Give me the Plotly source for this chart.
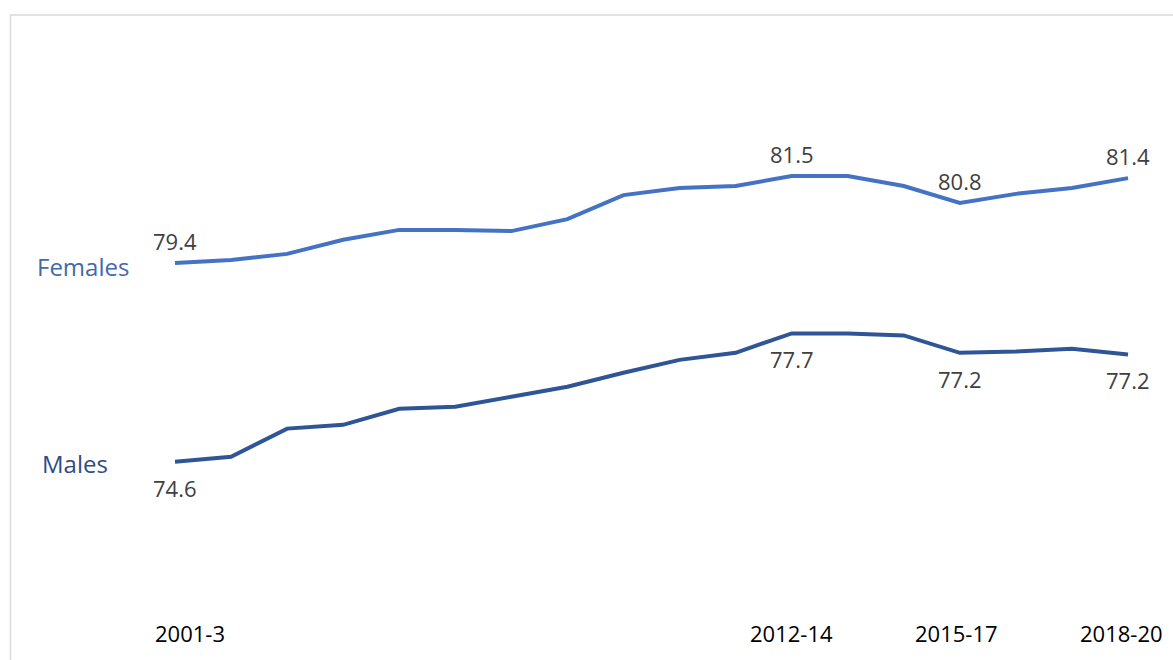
import plotly.graph_objects as go

periods = ["2001-3", "2002-4", "2003-5", "2004-6", "2005-7", "2006-8", "2007-9", "2008-10",
           "2009-11", "2010-12", "2011-13", "2012-14", "2013-15", "2014-16", "2015-17",
           "2016-18", "2017-19", "2018-20"]
females = [79.4, 79.47, 79.62, 79.96, 80.2, 80.2, 80.17, 80.46, 81.04, 81.21, 81.26,
           81.5, 81.5, 81.26, 80.85, 81.07, 81.21, 81.45]
males = [74.6, 74.72, 75.4, 75.49, 75.88, 75.93, 76.17, 76.41, 76.75, 77.06, 77.23,
         77.7, 77.7, 77.65, 77.23, 77.26, 77.33, 77.19]
female_labels = {0: "79.4", 11: "81.5", 14: "80.8", 17: "81.4"}
male_labels = {0: "74.6", 11: "77.7", 14: "77.2", 17: "77.2"}
tick_labels = {0: "2001-3", 11: "2012-14", 14: "2015-17", 17: "2018-20"}

W, H = 1173, 660
FONT = "Open Sans"
F_COL = "#4472C4"
M_COL = "#2F5597"
idx = list(range(len(periods)))

fig = go.Figure()
fig.add_trace(go.Scatter(x=idx, y=females, mode="lines", line=dict(color=F_COL, width=4),
                         name="Females", hoverinfo="skip"))
fig.add_trace(go.Scatter(x=idx, y=males, mode="lines", line=dict(color=M_COL, width=4),
                         name="Males", hoverinfo="skip"))

ann = []
for i, t in female_labels.items():
    ann.append(dict(x=i, y=females[i], xref="x", yref="y", text=t, showarrow=False,
                    yshift=22, font=dict(family=FONT, size=22, color="#404040")))
for i, t in male_labels.items():
    ann.append(dict(x=i, y=males[i], xref="x", yref="y", text=t, showarrow=False,
                    yshift=-26, font=dict(family=FONT, size=22, color="#404040")))
shifts = {0: 15, 11: 0, 14: -3, 17: -7}
for i, t in tick_labels.items():
    ann.append(dict(x=i, y=1 - 633 / H, xref="x", yref="paper", text=t, showarrow=False,
                    xshift=shifts[i], yanchor="middle",
                    font=dict(family=FONT, size=22, color="#000000")))
ann.append(dict(x=83 / W, y=1 - 266 / H, xref="paper", yref="paper", text="Females",
                showarrow=False, yanchor="middle", xanchor="center",
                font=dict(family=FONT, size=24, color="#4169B0")))
ann.append(dict(x=75 / W, y=1 - 463 / H, xref="paper", yref="paper", text="Males",
                showarrow=False, yanchor="middle", xanchor="center",
                font=dict(family=FONT, size=24, color="#2E4C86")))

# x: index i -> 175 + 56.06*i px ; y: value v -> 263 - (v-79.4)*41.4 px
sp = 56.06
x0 = -175 / sp
x1 = x0 + W / sp
py = 41.4
y_top = 79.4 + 263 / py
y_bot = 79.4 - (H - 263) / py

fig.update_layout(
    width=W, height=H,
    margin=dict(l=0, r=0, t=0, b=0),
    paper_bgcolor="white", plot_bgcolor="white",
    showlegend=False,
    xaxis=dict(range=[x0, x1], visible=False, fixedrange=True),
    yaxis=dict(range=[y_bot, y_top], visible=False, fixedrange=True),
    annotations=ann,
    shapes=[dict(type="path", xref="paper", yref="paper",
                 path=f"M {10.5 / W},0 L {10.5 / W},{1 - 15 / H} L 1,{1 - 15 / H}",
                 line=dict(color="#D9D9D9", width=1.5))],
)

fig.write_html("out.html")
